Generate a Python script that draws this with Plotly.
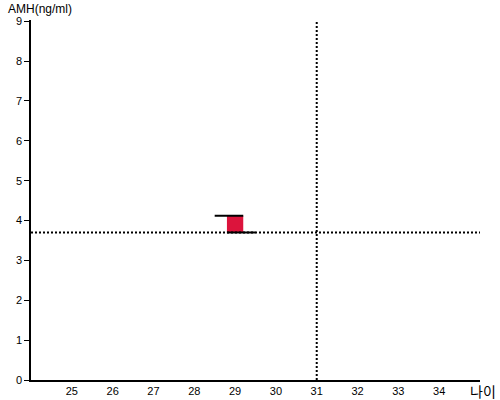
import plotly.graph_objects as go

# Data
ages = [29]
amh_low = [3.7]
amh_high = [4.12]
top_cap_x = [28.5, 29.2]
bottom_cap_x = [28.8, 29.5]
ref_age = 31
ref_amh = 3.7
x_ticks = [25, 26, 27, 28, 29, 30, 31, 32, 33, 34]
y_ticks = [0, 1, 2, 3, 4, 5, 6, 7, 8, 9]

fig = go.Figure()

# Reference lines
fig.add_trace(go.Scatter(x=[24, 35], y=[ref_amh, ref_amh], mode="lines",
                         line=dict(color="black", width=2, dash="2px,2px"),
                         hoverinfo="skip", showlegend=False))
fig.add_trace(go.Scatter(x=[ref_age, ref_age], y=[0, 9], mode="lines",
                         line=dict(color="black", width=2, dash="2px,2px"),
                         hoverinfo="skip", showlegend=False))

# Red box
fig.add_trace(go.Bar(x=ages, y=[h - l for h, l in zip(amh_high, amh_low)], base=amh_low,
                     width=0.4, marker=dict(color="#DC143C", line=dict(width=0)),
                     showlegend=False))

# Caps
fig.add_trace(go.Scatter(x=top_cap_x, y=[amh_high[0]] * 2, mode="lines",
                         line=dict(color="black", width=2), showlegend=False))
fig.add_trace(go.Scatter(x=bottom_cap_x, y=[amh_low[0]] * 2, mode="lines",
                         line=dict(color="black", width=2), showlegend=False))

fig.update_layout(
    width=500, height=400,
    margin=dict(l=31, r=20, t=20, b=20, autoexpand=False),
    plot_bgcolor="white", paper_bgcolor="white",
    font=dict(family="Liberation Sans, Arial, sans-serif", size=11, color="black"),
    xaxis=dict(range=[24, 35], tickvals=x_ticks, showgrid=False, zeroline=False,
               showline=True, linecolor="black", linewidth=1.5, ticks="",
               automargin=False),
    yaxis=dict(range=[0, 9.03], tickvals=y_ticks, showgrid=False, zeroline=False,
               showline=True, linecolor="black", linewidth=1.5, ticks="outside",
               ticklen=5, tickcolor="black", automargin=False),
    annotations=[
        dict(text="AMH(ng/ml)", xref="paper", yref="paper", x=-0.056, y=1.03,
             xanchor="left", yanchor="middle", showarrow=False, font=dict(size=12)),
        dict(text="나이", xref="paper", yref="paper", x=1.04, y=-0.03,
             xanchor="right", yanchor="middle", showarrow=False,
             font=dict(size=14, family="Noto Sans CJK KR, sans-serif")),
    ],
)

fig.write_html("out.html", config={"displayModeBar": False},
               post_script="document.body.style.margin='0';")
